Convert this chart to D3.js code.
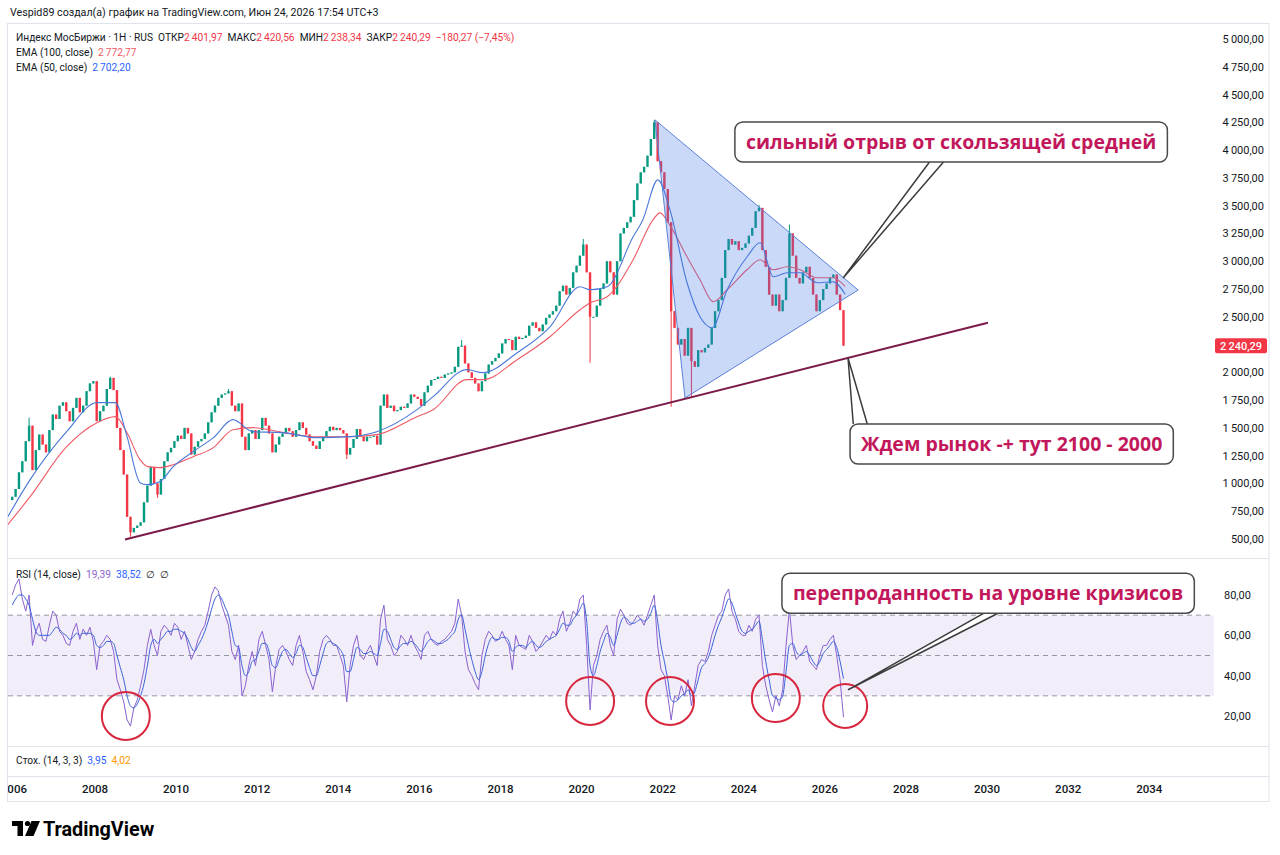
<!DOCTYPE html>
<html>
<head>
<meta charset="utf-8">
<script src="https://cdn.jsdelivr.net/npm/d3@7"></script>
<style>
body{margin:0;background:#fff;}
svg{font-family:Roboto,"Noto Sans",sans-serif;display:block;}
</style>
</head>
<body>
<svg id="chart" width="1280" height="855"></svg>
<script>
/* monthly closes, Dec 2005 .. Jun 2026 */
const firstOpen = 850;
const closes = [880,
  950,1100,1200,1380,1520,1120,1300,1440,1350,1280,1480,1620,
  1580,1700,1730,1650,1560,1680,1770,1640,1700,1830,1900,1920,
  1560,1650,1700,1850,1950,1840,1500,1300,1080,700,560,600,
  620,650,830,980,1150,1000,900,1040,1200,1280,1320,1380,
  1430,1400,1500,1450,1260,1330,1380,1400,1450,1550,1640,1700,
  1770,1800,1810,1830,1700,1650,1720,1420,1300,1450,1480,1400,
  1480,1590,1520,1450,1280,1350,1420,1450,1500,1470,1420,1480,
  1550,1500,1440,1380,1340,1310,1380,1420,1470,1510,1480,1500,
  1480,1450,1260,1320,1400,1490,1420,1380,1420,1420,1430,1350,
  1700,1800,1680,1700,1650,1660,1690,1680,1720,1800,1780,1760,
  1700,1820,1880,1930,1940,1960,1950,1980,1990,2000,2050,2230,
  2240,2080,2000,1950,1900,1830,1920,1990,2070,2100,2130,2170,
  2260,2300,2290,2200,2320,2300,2310,2330,2420,2450,2400,2370,
  2430,2490,2520,2550,2600,2730,2780,2700,2760,2900,2960,3050,
  3150,2900,2500,2500,2600,2750,2800,3000,2900,2700,3000,3250,
  3300,3350,3400,3550,3700,3800,3850,3950,4100,4250,3900,3800,
  3650,3350,2550,2400,2250,2300,2150,2400,2100,2050,2200,2180,
  2220,2250,2400,2550,2650,2850,3100,3200,3150,3180,3100,3120,
  3160,3230,3300,3450,3480,3100,2950,2700,2600,2700,2550,2650,
  2850,3250,3050,2850,2800,2900,2950,2850,2700,2550,2650,2750,
  2800,2850,2880,2700,2560,2240.29];

/* notable wicks: [year, month, value] */
const wickHighs = [[2006,5,1592],[2008,5,1960],[2011,4,1850],[2017,1,2290],[2020,1,3200],[2021,10,4272],[2024,5,3507],[2025,2,3330],[2026,6,2420.56]];
const wickLows = [[2008,11,520],[2009,7,870],[2014,3,1220],[2020,3,2086],[2022,3,1690],[2022,9,1780],[2026,6,2238.34]];

/* EMA lines: [year, value] */
const ema50 = [[2005.85,700],[2006.4,1034],[2007.3,1466],[2008.05,1727],[2008.5,1727],[2008.79,1421],[2009.11,1007],[2009.28,989],[2009.6,1016],[2009.93,1151],[2010.42,1286],[2010.92,1412],[2011.4,1574],[2011.89,1466],[2012.63,1457],[2013.48,1412],[2014.29,1421],[2014.95,1466],[2015.94,1664],[2016.34,1781],[2017.17,2024],[2017.57,1997],[2018.41,2176],[2019.22,2410],[2019.96,2770],[2020.21,2743],[2020.63,2770],[2021.27,3220],[2021.51,3372],[2021.88,3732],[2022.18,3462],[2022.6,2806],[2022.92,2500],[2023.22,2401],[2023.59,2743],[2024.08,3040],[2024.4,3166],[2024.73,2860],[2025.07,2896],[2025.39,2896],[2025.81,2806],[2026.2,2815],[2026.5,2702.20]];
const ema100 = [[2005.85,630],[2006.4,881],[2007.3,1331],[2008.05,1547],[2008.5,1601],[2008.79,1457],[2009.11,1214],[2009.3,1151],[2009.6,1142],[2009.93,1169],[2010.42,1241],[2010.92,1322],[2011.4,1484],[2011.89,1502],[2012.63,1460],[2013.48,1420],[2014.29,1420],[2014.95,1439],[2015.94,1601],[2016.34,1664],[2017.17,1934],[2017.57,1934],[2018.41,2113],[2019.22,2320],[2019.96,2563],[2020.21,2626],[2020.63,2680],[2021.27,3013],[2021.76,3372],[2021.93,3435],[2022.2,3309],[2022.6,3040],[2022.92,2833],[2023.25,2635],[2023.59,2743],[2024.08,2923],[2024.4,3013],[2024.73,2923],[2025.07,2950],[2025.39,2923],[2025.81,2851],[2026.2,2851],[2026.5,2772.77]];

/* RSI (14) and its moving average, monthly, Dec 2005 .. Jun 2026 */
const rsi = [80,
  85,88,78,72,80,55,62,66,58,57,65,72,
  70,62,60,56,55,62,66,58,63,60,64,57,
  43,55,57,60,58,52,38,33,27,18,15,24,
  28,35,43,55,63,55,50,62,65,63,60,66,
  64,58,62,55,48,52,58,62,65,72,80,84,
  82,75,70,65,52,48,55,30,35,45,52,45,
  58,62,55,48,32,45,53,55,52,48,45,55,
  60,52,42,38,33,40,52,58,60,58,55,55,
  50,45,27,45,55,60,50,48,52,55,50,45,
  68,75,58,55,50,52,60,58,55,60,55,52,
  48,60,62,58,56,55,57,58,60,62,66,78,
  70,52,43,40,36,33,50,58,62,60,57,58,
  62,58,55,43,60,55,54,53,60,57,52,54,
  57,60,58,62,60,68,72,62,66,72,70,78,
  80,55,23,45,50,58,62,65,55,50,68,73,
  70,66,65,67,70,68,65,70,75,80,55,43,
  40,30,18,30,28,35,30,38,25,35,45,48,
  47,52,60,65,70,72,80,83,72,68,62,60,
  60,65,62,68,70,45,35,28,22,30,25,33,
  55,73,55,48,50,52,55,47,45,43,50,55,
  55,58,60,50,38,19.39];
const rsiMa = [75,
  78,80,80,78,75,68,62,60,60,60,60,62,
  64,63,61,60,58,59,61,60,61,61,61,60,
  55,54,55,57,57,56,50,44,38,30,25,24,
  26,30,36,45,55,58,56,58,60,62,62,63,
  63,62,61,58,54,52,55,58,62,67,73,78,
  80,78,74,70,62,55,54,45,40,42,47,48,
  52,56,56,52,45,44,48,52,53,51,49,51,
  55,54,49,44,40,40,45,51,56,57,56,55,
  53,50,42,42,48,54,53,51,51,52,51,50,
  56,63,62,58,54,53,55,56,56,57,56,54,
  52,54,57,58,57,56,56,57,58,60,62,68,
  70,63,55,48,42,38,42,50,56,59,58,58,
  59,59,57,52,54,55,55,54,56,57,55,54,
  55,57,58,59,60,63,66,65,65,68,70,73,
  76,67,45,40,45,52,57,61,59,55,60,66,
  69,68,66,66,67,68,67,68,71,75,67,55,
  47,38,28,27,28,30,31,33,30,32,38,44,
  46,49,54,60,65,69,74,78,76,71,66,62,
  61,62,63,65,67,58,47,38,30,29,28,30,
  42,55,56,52,50,51,52,50,47,45,47,51,
  53,55,57,54,47,38.52];

const stochK = 3.95, stochD = 4.02;
const ohlc = {open: 2401.97, high: 2420.56, low: 2238.34, close: 2240.29, change: -180.27, pct: -7.45};

const yearTicks = d3.range(2006, 2035, 2);
const priceTicks = d3.range(500, 5001, 250);
const rsiTicks = [20, 40, 60, 80];
const rsiLevels = [70, 50, 30];

/* drawings */
const triangle = [[2021.81, 4272], [2022.55, 1769], [2026.82, 2741]];
const trendLine = [[2008.74, 495], [2030.02, 2446]];
const circles = [[2008.76, 20, 24], [2020.21, 27.4, 24], [2022.18, 27.4, 24], [2024.79, 28.9, 24], [2026.5, 25, 22]];
const notes = [
  {text: "сильный отрыв от скользящей средней", pane: "main", t: 2023.78, v: 4253, tipT: 2026.45, tipV: 2850, base: 0.45},
  {text: "Ждем рынок -+ тут 2100 - 2000", pane: "main", t: 2026.62, v: 1535, tipT: 2026.57, tipV: 2129, base: 0.01},
  {text: "перепроданность на уровне кризисов", pane: "rsi", t: 2024.94, v: 90.8, tipT: 2026.57, tipV: 33, base: 0.49}
];

const ru = d3.formatLocale({decimal: ",", thousands: "\u2009", grouping: [3], currency: ["", ""], minus: "\u2212"});
const fmt = ru.format(",.2f");
const sp = "\u00a0\u00a0";

const svg = d3.select("#chart");
const green = "#089981", red = "#f23645", dark = "#131722";

const x = d3.scaleLinear().domain([2008, 2034]).range([95, 1149.3]);
const y = d3.scaleLinear().domain([500, 5000]).range([539, 39]);
const yR = d3.scaleLinear().domain([20, 80]).range([716, 595]);

const paneL = 8, paneR = 1214, frameR = 1269;

/*clips*/
const defs = svg.append("defs");
defs.append("clipPath").attr("id", "cMain").append("rect")
	.attr("x", paneL).attr("y", 24).attr("width", paneR - paneL).attr("height", 534);
defs.append("clipPath").attr("id", "cRsi").append("rect")
	.attr("x", paneL).attr("y", 559).attr("width", paneR - paneL).attr("height", 186);
defs.append("clipPath").attr("id", "cAxis").append("rect")
	.attr("x", paneL).attr("y", 776).attr("width", paneR - paneL).attr("height", 25);

/*header*/
svg.append("text").attr("x", 10).attr("y", 16)
	.style("font-size", "10.7px").style("fill", dark)
	.text("Vespid89 создал(а) график на TradingView.com, Июн 24, 2026 17:54 UTC+3");

/*frame and separators*/
svg.append("rect").attr("x", 7.5).attr("y", 23.5).attr("width", frameR - 7.5).attr("height", 778)
	.style("fill", "none").style("stroke", "#e0e3eb");
[558.5, 746.5, 776.5].forEach(v => svg.append("line")
	.attr("x1", 7.5).attr("x2", frameR).attr("y1", v).attr("y2", v)
	.style("stroke", "#e0e3eb"));

/*candles*/
const candles = closes.map((c, i) => {
	const o = i === 0 ? firstOpen : closes[i - 1];
	return {t: 2005 + (11 + i + 0.5) / 12, o: o, c: c, h: Math.max(o, c), l: Math.min(o, c)};
});
const idx = (yr, m) => (yr - 2005) * 12 + (m - 1) - 11;
wickHighs.forEach(([yr, m, v]) => { candles[idx(yr, m)].h = v; });
wickLows.forEach(([yr, m, v]) => { candles[idx(yr, m)].l = v; });

const main = svg.append("g").attr("clip-path", "url(#cMain)");
main.selectAll(".wick").data(candles).enter().append("line")
	.attr("x1", d => x(d.t)).attr("x2", d => x(d.t))
	.attr("y1", d => y(d.h)).attr("y2", d => y(d.l))
	.style("stroke", d => d.c >= d.o ? green : red).style("stroke-width", 1);
main.selectAll(".body").data(candles).enter().append("rect")
	.attr("x", d => x(d.t) - 1.2).attr("width", 2.4)
	.attr("y", d => y(Math.max(d.o, d.c)))
	.attr("height", d => Math.max(1, Math.abs(y(d.o) - y(d.c))))
	.style("fill", d => d.c >= d.o ? green : red);

/*EMA lines*/
const emaLine = d3.line().x(d => x(d[0])).y(d => y(d[1])).curve(d3.curveMonotoneX);
main.append("path").attr("d", emaLine(ema100))
	.style("fill", "none").style("stroke", "#ef5a65").style("stroke-width", 1.1);
main.append("path").attr("d", emaLine(ema50))
	.style("fill", "none").style("stroke", "#4a78d8").style("stroke-width", 1.1);

/*triangle + trend line*/
main.append("path")
	.attr("d", "M" + triangle.map(p => [x(p[0]), y(p[1])].join(",")).join("L") + "Z")
	.style("fill", "rgba(70,120,230,0.28)").style("stroke", "#5b80d8").style("stroke-width", 1);
main.append("line")
	.attr("x1", x(trendLine[0][0])).attr("y1", y(trendLine[0][1]))
	.attr("x2", x(trendLine[1][0])).attr("y2", y(trendLine[1][1]))
	.style("stroke", "#7b1a4a").style("stroke-width", 2);

/*price axis (ticks hidden under the last-price label)*/
const last = closes[closes.length - 1];
svg.append("g").selectAll("text")
	.data(priceTicks.filter(d => Math.abs(y(d) - y(last)) > 14)).enter().append("text")
	.attr("x", 1264).attr("y", d => y(d) + 4)
	.attr("text-anchor", "end")
	.style("font-size", "11px").style("fill", dark)
	.text(d => fmt(d));
svg.append("rect").attr("x", 1215).attr("y", y(last) - 7.5).attr("width", 52).attr("height", 15)
	.attr("rx", 2).style("fill", red);
svg.append("text").attr("x", 1241).attr("y", y(last) + 4).attr("text-anchor", "middle")
	.style("font-size", "11px").style("font-weight", 500).style("fill", "#fff")
	.text(fmt(last));

/*legend*/
function legendLine(yy, parts) {
	const t = svg.append("text").attr("x", 16).attr("y", yy).style("font-size", "10.2px");
	parts.forEach(([s, c]) => t.append("tspan").style("fill", c).text(s));
}
legendLine(41, [["Индекс МосБиржи · 1H · RUS" + sp + "ОТКР", dark], [fmt(ohlc.open), red], [sp + "МАКС", dark], [fmt(ohlc.high), red],
	[sp + "МИН", dark], [fmt(ohlc.low), red], [sp + "ЗАКР", dark], [fmt(ohlc.close), red],
	[sp + fmt(ohlc.change) + " (" + ru.format(".2f")(ohlc.pct) + "%)", red]]);
legendLine(56, [["EMA (100, close)" + sp, dark], [fmt(ema100[ema100.length - 1][1]), "#ef5a65"]]);
legendLine(71, [["EMA (50, close)" + sp, dark], [fmt(ema50[ema50.length - 1][1]), "#2962ff"]]);

/*RSI pane*/
const rp = svg.append("g").attr("clip-path", "url(#cRsi)");
rp.append("rect").attr("x", paneL).attr("width", paneR - paneL)
	.attr("y", yR(70)).attr("height", yR(30) - yR(70))
	.style("fill", "rgba(126,87,194,0.1)");
rp.selectAll(".lvl").data(rsiLevels).enter().append("line")
	.attr("x1", paneL).attr("x2", paneR).attr("y1", d => yR(d)).attr("y2", d => yR(d))
	.style("stroke", "#9598a1").style("stroke-dasharray", "5,4").style("stroke-width", 1);
const rsiLine = d3.line().x((d, i) => x(candles[i].t)).y(d => yR(d));
rp.append("path").attr("d", rsiLine(rsi))
	.style("fill", "none").style("stroke", "#8a62d0").style("stroke-width", 1);
rp.append("path").attr("d", rsiLine.curve(d3.curveMonotoneX)(rsiMa))
	.style("fill", "none").style("stroke", "#3a63d8").style("stroke-width", 1);

svg.append("g").selectAll("text").data(rsiTicks).enter().append("text")
	.attr("x", 1224).attr("y", d => yR(d) + 4)
	.style("font-size", "11px").style("fill", dark)
	.text(d => fmt(d));

svg.selectAll(".circ").data(circles).enter().append("circle")
	.attr("cx", d => x(d[0])).attr("cy", d => yR(d[1])).attr("r", d => d[2])
	.style("fill", "none").style("stroke", "#d7263d").style("stroke-width", 2);

const rl = svg.append("text").attr("x", 16).attr("y", 578).style("font-size", "10.2px");
rl.append("tspan").style("fill", dark).text("RSI (14, close)" + sp);
rl.append("tspan").style("fill", "#8a62d0").text(fmt(rsi[rsi.length - 1]) + sp);
rl.append("tspan").style("fill", "#2962ff").text(fmt(rsiMa[rsiMa.length - 1]) + sp);
rl.append("tspan").style("fill", dark).text("∅" + sp + "∅");

/*stoch pane label*/
const sl = svg.append("text").attr("x", 16).attr("y", 764).style("font-size", "10.2px");
sl.append("tspan").style("fill", dark).text("Стох. (14, 3, 3)" + sp);
sl.append("tspan").style("fill", "#2962ff").text(fmt(stochK) + sp);
sl.append("tspan").style("fill", "#ff9800").text(fmt(stochD));

/*time axis*/
svg.append("g").attr("clip-path", "url(#cAxis)")
	.selectAll("text").data(yearTicks).enter().append("text")
	.attr("x", d => x(d)).attr("y", 793).attr("text-anchor", "middle")
	.style("font-size", "11.5px").style("font-weight", 500).style("fill", dark)
	.text(d => d);

/*annotations*/
notes.forEach(n => {
	const sc = n.pane === "rsi" ? yR : y;
	const left = x(n.t), top = sc(n.v), h = 40;
	const g = svg.append("g");
	const txt = g.append("text").attr("x", left + 11).attr("y", top + 27)
		.style("font-size", "19.5px").style("font-weight", 700).style("fill", "#c2185b")
		.style("font-family", "'Open Sans',Roboto,sans-serif")
		.text(n.text);
	const w = txt.node().getComputedTextLength() + 22;
	const tx = x(n.tipT), ty = sc(n.tipV);
	const by = ty < top ? top : top + h;
	const bx = left + n.base * w;
	g.insert("path", "text")
		.attr("d", `M${bx},${by}L${tx},${ty}L${bx + 14},${by}`)
		.style("fill", "#fff").style("stroke", "#3c3c3c").style("stroke-width", 1.5);
	g.insert("rect", "text").attr("x", left).attr("y", top).attr("width", w).attr("height", h)
		.attr("rx", 8).style("fill", "#fff").style("stroke", "#4a4a4a").style("stroke-width", 1.5);
});

/*logo*/
const logo = svg.append("g").style("fill", "#000");
logo.append("rect").attr("x", 12).attr("y", 821).attr("width", 11).attr("height", 5);
logo.append("rect").attr("x", 17.5).attr("y", 821).attr("width", 5.5).attr("height", 15);
logo.append("circle").attr("cx", 27.5).attr("cy", 823.5).attr("r", 2.6);
logo.append("path").attr("d", "M31.5,821L40,821L33.5,836L25,836Z");
svg.append("text").attr("x", 43).attr("y", 835.5)
	.style("font-size", "19.8px").style("font-weight", 700).style("fill", "#000")
	.text("TradingView");
</script>
</body>
</html>
